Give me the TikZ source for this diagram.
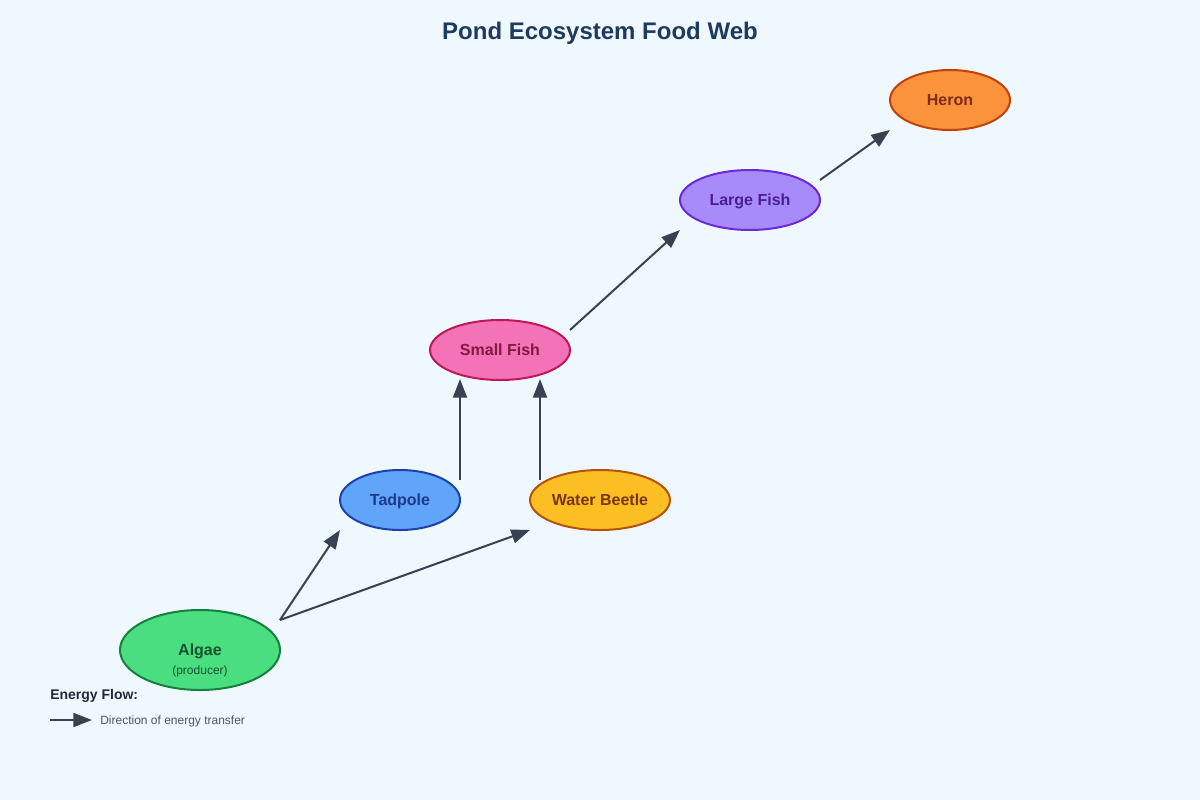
\documentclass[tikz,border=0pt]{standalone}
\usepackage{fontspec}
\setmainfont{Liberation Sans}
\usetikzlibrary{shapes.geometric,arrows.meta}
\definecolor{bg}{HTML}{F0F8FF}
\definecolor{titlec}{HTML}{1E3A5F}
\definecolor{arrowc}{HTML}{374151}
\definecolor{legc}{HTML}{1F2937}
\definecolor{legt}{HTML}{4B5563}
\definecolor{algF}{HTML}{4ADE80}\definecolor{algD}{HTML}{15803D}\definecolor{algT}{HTML}{14532D}
\definecolor{tadF}{HTML}{60A5FA}\definecolor{tadD}{HTML}{1E40AF}\definecolor{tadT}{HTML}{1E3A8A}
\definecolor{wbF}{HTML}{FBBF24}\definecolor{wbD}{HTML}{B45309}\definecolor{wbT}{HTML}{78350F}
\definecolor{sfF}{HTML}{F472B6}\definecolor{sfD}{HTML}{BE185D}\definecolor{sfT}{HTML}{831843}
\definecolor{lfF}{HTML}{A78BFA}\definecolor{lfD}{HTML}{6D28D9}\definecolor{lfT}{HTML}{4C1D95}
\definecolor{hrF}{HTML}{FB923C}\definecolor{hrD}{HTML}{C2410C}\definecolor{hrT}{HTML}{7C2D12}
\begin{document}
\begin{tikzpicture}[x=0.75pt,y=-0.75pt,
  org/.style={ellipse,draw,line width=1.5pt,inner sep=0pt},
  lbl/.style={anchor=base,inner sep=0pt,font=\fontsize{12}{14}\selectfont\bfseries},
  flow/.style={draw=arrowc,line width=1.5pt,-{Triangle[length=14pt,width=10.5pt]}}]
\fill[bg] (0,0) rectangle (1200,800);
\useasboundingbox (0,0) rectangle (1200,800);
\node[font=\fontsize{18}{22}\selectfont\bfseries,text=titlec] (title) at (600,33) {Pond Ecosystem Food Web};
% organisms
\node[org,fill=algF,draw=algD,minimum width=120pt,minimum height=60pt] (algae) at (200,650) {};
\node[lbl,text=algT] (algaelbl) at (200,655.5) {Algae};
\node[anchor=base,inner sep=0pt,font=\fontsize{9}{11}\selectfont,text=algT] (algaesub) at (200,674.5) {(producer)};
\node[org,fill=tadF,draw=tadD,minimum width=90pt,minimum height=45pt] (tad) at (400,500) {};
\node[lbl,text=tadT] (tadlbl) at (400,505.5) {Tadpole};
\node[org,fill=wbF,draw=wbD,minimum width=105pt,minimum height=45pt] (wb) at (600,500) {};
\node[lbl,text=wbT] (wblbl) at (600,505.5) {Water Beetle};
\node[org,fill=sfF,draw=sfD,minimum width=105pt,minimum height=45pt] (sf) at (500,350) {};
\node[lbl,text=sfT] (sflbl) at (500,355.5) {Small Fish};
\node[org,fill=lfF,draw=lfD,minimum width=105pt,minimum height=45pt] (lf) at (750,200) {};
\node[lbl,text=lfT] (lflbl) at (750,205.5) {Large Fish};
\node[org,fill=hrF,draw=hrD,minimum width=90pt,minimum height=45pt] (heron) at (950,100) {};
\node[lbl,text=hrT] (hrlbl) at (950,105.5) {Heron};
% connector endpoints
\coordinate (algOut) at (280,620);
\coordinate (tadIn) at (340,530);
\coordinate (wbIn) at (530,530);
\coordinate (tadOut) at (460,480);
\coordinate (wbOut) at (540,480);
\coordinate (sfInA) at (460,379);
\coordinate (sfInB) at (540,379);
\coordinate (sfOut) at (570,330);
\coordinate (lfIn) at (680,230);
\coordinate (lfOut) at (820,180);
\coordinate (hrIn) at (890,130);
\draw[flow] (algOut) -- (tadIn);
\draw[flow] (algOut) -- (wbIn);
\draw[flow] (tadOut) -- (sfInA);
\draw[flow] (wbOut) -- (sfInB);
\draw[flow] (sfOut) -- (lfIn);
\draw[flow] (lfOut) -- (hrIn);
% legend
\node[anchor=west,font=\fontsize{10.5}{12}\selectfont\bfseries,text=legc,inner sep=0pt] (legtitle) at (50,696) {Energy Flow:};
\coordinate (legA) at (50,720);
\coordinate (legB) at (92,720);
\draw[flow] (legA) -- (legB);
\node[anchor=west,font=\fontsize{9}{11}\selectfont,text=legt,inner sep=0pt] (legtext) at (100,721.5) {Direction of energy transfer};
\end{tikzpicture}
\end{document}
